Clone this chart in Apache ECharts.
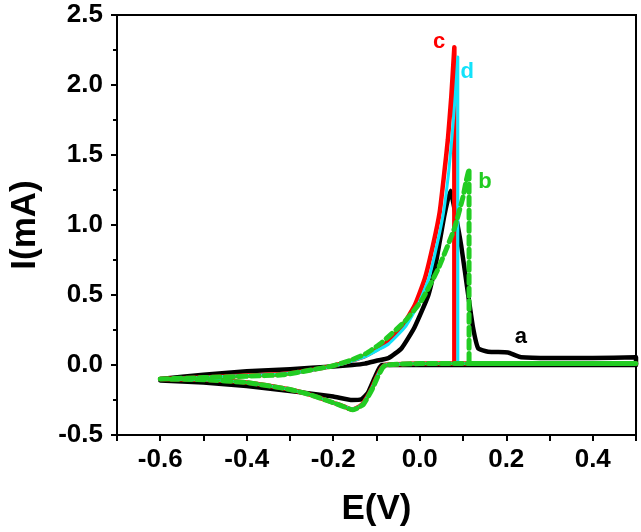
<!DOCTYPE html>
<html>
<head>
<meta charset="utf-8">
<script src="https://cdn.jsdelivr.net/npm/echarts@6/dist/echarts.min.js"></script>
<style>
  html, body { margin: 0; padding: 0; background: #fff; }
  #chart { width: 641px; height: 532px; }
</style>
</head>
<body>
<div id="chart"></div>
<script>
// curve a (black): forward scan then reverse scan
const aE = [-0.6, -0.5, -0.4, -0.3, -0.2, -0.156, -0.127, -0.1, -0.072, -0.042, -0.012, 0.02, 0.038, 0.057, 0.071, 0.08, 0.096, 0.112, 0.123, 0.135, 0.158, 0.204, 0.22, 0.234, 0.3, 0.4, 0.5,
            0.5, 0.3, 0.1, -0.088, -0.104, -0.12, -0.135, -0.156, -0.2, -0.3, -0.4, -0.5, -0.6]
const aI = [-0.10, -0.07, -0.045, -0.03, -0.01, 0.0, 0.01, 0.03, 0.05, 0.12, 0.27, 0.50, 0.74, 1.07, 1.245, 1.12, 0.85, 0.50, 0.27, 0.12, 0.095, 0.09, 0.07, 0.055, 0.05, 0.05, 0.055,
            0.0, 0.0, 0.0, 0.0, -0.09, -0.2, -0.245, -0.25, -0.225, -0.185, -0.15, -0.125, -0.11]

// curve c (red)
const cE = [-0.6, -0.5, -0.4, -0.317, -0.25, -0.202, -0.16, -0.126, -0.1, -0.08, -0.042, -0.011, 0.012, 0.031, 0.046, 0.057, 0.065, 0.073, 0.08, 0.08, 0.2, 0.35, 0.5,
            0.5, 0.2, 0.0, -0.08, -0.088, -0.1, -0.11, -0.122, -0.133, -0.145, -0.158, -0.172, -0.195, -0.218, -0.25, -0.3, -0.4, -0.5, -0.6]
const cI = [-0.10, -0.09, -0.075, -0.065, -0.035, -0.006, 0.03, 0.065, 0.11, 0.15, 0.27, 0.43, 0.62, 0.86, 1.09, 1.38, 1.61, 1.92, 2.27, 0.01, 0.01, 0.01, 0.01,
            0.01, 0.01, 0.01, 0.0, -0.02, -0.09, -0.16, -0.23, -0.28, -0.305, -0.318, -0.30, -0.275, -0.25, -0.215, -0.175, -0.125, -0.105, -0.10]

// curve d (cyan)
const dE = [-0.6, -0.5, -0.4, -0.317, -0.25, -0.202, -0.16, -0.122, -0.095, -0.072, -0.034, -0.004, 0.021, 0.04, 0.055, 0.067, 0.074, 0.082, 0.088, 0.088, 0.2, 0.35, 0.5,
            0.5, 0.2, 0.0, -0.08, -0.088, -0.1, -0.11, -0.122, -0.133, -0.145, -0.158, -0.172, -0.195, -0.218, -0.25, -0.3, -0.4, -0.5, -0.6]
const dI = [-0.10, -0.09, -0.075, -0.065, -0.038, -0.01, 0.025, 0.065, 0.11, 0.15, 0.27, 0.43, 0.62, 0.86, 1.09, 1.38, 1.61, 1.92, 2.20, 0.01, 0.01, 0.01, 0.01,
            0.01, 0.01, 0.01, 0.0, -0.02, -0.09, -0.16, -0.23, -0.28, -0.305, -0.315, -0.30, -0.275, -0.25, -0.215, -0.175, -0.125, -0.105, -0.10]

// curve b (green, dashed)
const bE = [-0.6, -0.5, -0.4, -0.317, -0.25, -0.2, -0.163, -0.125, -0.088, -0.035, 0.004, 0.043, 0.08, 0.1, 0.107, 0.114, 0.114, 0.114, 0.2, 0.35, 0.5,
            0.5, 0.2, 0.0, -0.078, -0.086, -0.098, -0.108, -0.12, -0.13, -0.142, -0.155, -0.17, -0.195, -0.218, -0.25, -0.3, -0.4, -0.5, -0.6]
const bI = [-0.10, -0.09, -0.08, -0.07, -0.035, -0.005, 0.03, 0.08, 0.16, 0.31, 0.46, 0.69, 0.975, 1.2, 1.31, 1.40, 0.7, 0.01, 0.01, 0.01, 0.01,
            0.01, 0.01, 0.01, 0.0, -0.02, -0.09, -0.16, -0.23, -0.28, -0.305, -0.32, -0.305, -0.275, -0.25, -0.215, -0.175, -0.125, -0.105, -0.10]

const xLabelTicks = [-0.6, -0.4, -0.2, 0.0, 0.2, 0.4]
const xTicks = [-0.7, -0.6, -0.5, -0.4, -0.3, -0.2, -0.1, 0.0, 0.1, 0.2, 0.3, 0.4, 0.5]
const yTicks = [-0.5, 0.0, 0.5, 1.0, 1.5, 2.0, 2.5]

const font = '"Liberation Sans", Arial, sans-serif'
const zip = (xs, ys) => xs.map((x, i) => [x, ys[i]])

const chart = echarts.init(document.getElementById('chart'))

const curve = (name, xs, ys, color, width, dashed, tag, z) => ({
    name,
    type: 'line',
    data: zip(xs, ys),
    showSymbol: false,
    symbol: 'none',
    smooth: 0.15,
    z,
    lineStyle: {
        color,
        width,
        type: dashed ? [8, 5] : 'solid',
        cap: 'round',
        join: 'round',
    },
    markPoint: {
        symbol: 'circle',
        symbolSize: 0,
        silent: true,
        label: {
            show: true,
            formatter: name,
            color,
            fontFamily: font,
            fontWeight: 'bold',
            fontSize: 22,
        },
        data: [{ coord: tag }],
    },
})

chart.setOption({
    animation: false,
    backgroundColor: '#fff',
    grid: {
        left: 113,
        right: 5,
        top: 15,
        bottom: 94,
        show: true,
        borderColor: '#000',
        borderWidth: 2,
        backgroundColor: 'transparent',
    },
    xAxis: {
        type: 'value',
        min: -0.7,
        max: 0.5,
        interval: 0.1,
        name: 'E(V)',
        nameLocation: 'middle',
        nameGap: 57,
        nameTextStyle: { fontFamily: font, fontWeight: 'bold', fontSize: 35, color: '#000' },
        axisLine: { show: true, onZero: false, lineStyle: { color: '#000', width: 2 } },
        axisTick: { show: true, customValues: xTicks, length: 6, lineStyle: { color: '#000', width: 2 } },
        axisLabel: {
            customValues: xLabelTicks,
            formatter: (v) => v.toFixed(1),
            margin: 12,
            fontFamily: font,
            fontWeight: 'bold',
            fontSize: 26,
            color: '#000',
        },
        splitLine: { show: false },
    },
    yAxis: {
        type: 'value',
        min: -0.5,
        max: 2.5,
        interval: 0.5,
        name: 'I(mA)',
        nameLocation: 'middle',
        nameGap: 74,
        nameRotate: 90,
        nameTextStyle: { fontFamily: font, fontWeight: 'bold', fontSize: 35, color: '#000' },
        axisLine: { show: true, onZero: false, lineStyle: { color: '#000', width: 2 } },
        axisTick: { show: true, length: 6, lineStyle: { color: '#000', width: 2 } },
        minorTick: { show: true, splitNumber: 2, length: 4, lineStyle: { color: '#000', width: 2 } },
        axisLabel: {
            customValues: yTicks,
            formatter: (v) => v.toFixed(1),
            margin: 14,
            fontFamily: font,
            fontWeight: 'bold',
            fontSize: 26,
            color: '#000',
        },
        splitLine: { show: false },
    },
    series: [
        curve('a', aE, aI, '#000000', 4.5, false, [0.234, 0.2], 2),
        curve('c', cE, cI, '#ff0000', 4.5, false, [0.045, 2.31], 3),
        curve('d', dE, dI, '#12e2fa', 3, false, [0.11, 2.09], 4),
        curve('b', bE, bI, '#22cc22', 5, true, [0.151, 1.31], 5),
    ],
})
</script>
</body>
</html>
